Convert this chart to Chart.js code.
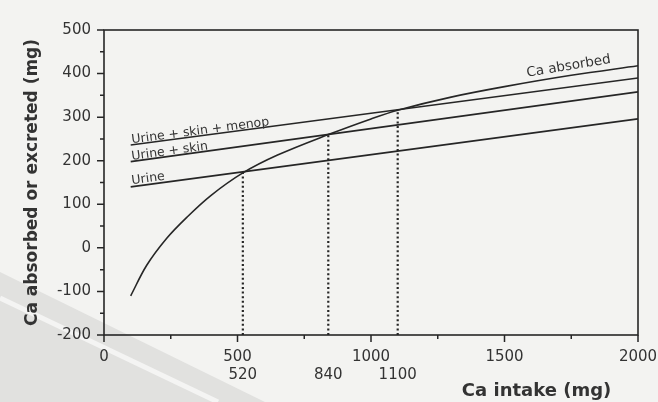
<!DOCTYPE html>
<html>
<head>
<meta charset="utf-8">
<script src="https://cdn.jsdelivr.net/npm/chart.js@4/dist/chart.umd.min.js"></script>
<style>
html,body{margin:0;padding:0;background:#f3f3f1;}
#wrap{width:658px;height:402px;}
</style>
</head>
<body>
<div id="wrap"><canvas id="c" width="658" height="402"></canvas></div>
<script>
// ---- data ----
const intake = [100, 160, 235, 310, 400, 520, 650, 840, 1000, 1100, 1300, 1500, 1750, 2000];
const caAbsorbed = [-110, -40, 22, 70, 120, 172, 213, 260, 296, 316, 346, 370, 396, 418];
const lineIntake = [100, 2000];
const urine = [140, 296];
const urineSkin = [198, 358];
const urineSkinMenop = [236, 390];
const thresholdIntake = [520, 840, 1100];
const thresholdLevel = [174, 260, 317];
const axisFloor = -200;
const xMajorTicks = [0, 500, 1000, 1500, 2000];
const xMinorTicks = [250, 750, 1250, 1750];
const yMajorTicks = [-200, -100, 0, 100, 200, 300, 400, 500];
const yMinorTicks = [-150, -50, 50, 150, 250, 350, 450];
const seriesNames = ['Urine', 'Urine + skin', 'Urine + skin + menop', 'Ca absorbed'];
const xTitle = 'Ca intake (mg)';
const yTitle = 'Ca absorbed or excreted (mg)';

const INK = '#262626';
const TXT = '#333333';
const FONT = "'DejaVu Sans', sans-serif";

const pts = (xs, ys) => xs.map((x, i) => ({x: x, y: ys[i]}));

const datasets = [
  {data: pts(intake, caAbsorbed), tension: 0.35},
  {data: pts(lineIntake, urine)},
  {data: pts(lineIntake, urineSkin)},
  {data: pts(lineIntake, urineSkinMenop)}
].map(d => Object.assign({borderColor: INK, borderWidth: 1.6, pointRadius: 0, fill: false}, d));

thresholdIntake.forEach((x, i) => {
  datasets.push({
    data: [{x: x, y: axisFloor}, {x: x, y: thresholdLevel[i]}],
    borderColor: INK, borderWidth: 2.2, borderDash: [2, 2.6], pointRadius: 0, fill: false
  });
});

function interp(xs, ys, x) {
  for (let i = 0; i < xs.length - 1; i++) {
    if (x >= xs[i] && x <= xs[i + 1]) {
      const t = (x - xs[i]) / (xs[i + 1] - xs[i]);
      return ys[i] + t * (ys[i + 1] - ys[i]);
    }
  }
  return ys[ys.length - 1];
}

const labelSpecs = [
  {text: seriesNames[0], xs: lineIntake, ys: urine, at: 105, lift: 2.5, size: 12.5},
  {text: seriesNames[1], xs: lineIntake, ys: urineSkin, at: 105, lift: 1.5, size: 12.5},
  {text: seriesNames[2], xs: lineIntake, ys: urineSkinMenop, at: 105, lift: 1.5, size: 12.5},
  {text: seriesNames[3], xs: intake, ys: caAbsorbed, at: 1585, lift: 6, size: 13.5}
];

const bgPlugin = {
  id: 'bg',
  beforeDraw(chart) {
    const ctx = chart.ctx;
    ctx.save();
    ctx.fillStyle = '#f3f3f1';
    ctx.fillRect(0, 0, chart.width, chart.height);
    ctx.fillStyle = '#e1e1df';
    ctx.beginPath();
    ctx.moveTo(0, 272); ctx.lineTo(265, 402); ctx.lineTo(0, 402); ctx.closePath();
    ctx.fill();
    ctx.strokeStyle = '#f4f4f3';
    ctx.lineWidth = 5;
    ctx.beginPath();
    ctx.moveTo(0, 298); ctx.lineTo(218, 402);
    ctx.stroke();
    ctx.restore();
  }
};

const decoPlugin = {
  id: 'deco',
  afterDraw(chart) {
    const ctx = chart.ctx;
    const a = chart.chartArea;
    const xs = chart.scales.x, ys = chart.scales.y;
    ctx.save();
    ctx.strokeStyle = INK;
    ctx.lineWidth = 1.6;
    ctx.strokeRect(a.left, a.top, a.right - a.left, a.bottom - a.top);
    ctx.lineWidth = 1.5;
    ctx.beginPath();
    yMajorTicks.forEach(v => { const p = ys.getPixelForValue(v); ctx.moveTo(a.left - 7, p); ctx.lineTo(a.left, p); });
    yMinorTicks.forEach(v => { const p = ys.getPixelForValue(v); ctx.moveTo(a.left - 4, p); ctx.lineTo(a.left, p); });
    xMajorTicks.forEach(v => { const p = xs.getPixelForValue(v); ctx.moveTo(p, a.bottom); ctx.lineTo(p, a.bottom + 7); });
    xMinorTicks.forEach(v => { const p = xs.getPixelForValue(v); ctx.moveTo(p, a.bottom); ctx.lineTo(p, a.bottom + 4); });
    ctx.stroke();
    ctx.fillStyle = TXT;
    ctx.textAlign = 'left';
    ctx.textBaseline = 'alphabetic';
    labelSpecs.forEach(s => {
      const x0 = xs.getPixelForValue(s.at), y0 = ys.getPixelForValue(interp(s.xs, s.ys, s.at));
      const x1 = xs.getPixelForValue(s.at + 200), y1 = ys.getPixelForValue(interp(s.xs, s.ys, s.at + 200));
      const ang = Math.atan2(y1 - y0, x1 - x0);
      ctx.save();
      ctx.font = s.size + "px " + FONT;
      ctx.translate(x0, y0 - s.lift);
      ctx.rotate(ang);
      ctx.fillText(s.text, 0, 0);
      ctx.restore();
    });
    ctx.font = "bold 18px " + FONT;
    ctx.textAlign = 'center';
    ctx.fillText(xTitle, xs.getPixelForValue(1620), 396);
    ctx.restore();
  }
};

const noSidePad = s => { s.paddingLeft = 0; s.paddingRight = 0; s.paddingTop = 0; s.paddingBottom = 0; };

new Chart(document.getElementById('c'), {
  type: 'line',
  data: {datasets: datasets},
  plugins: [bgPlugin, decoPlugin],
  options: {
    responsive: false,
    devicePixelRatio: 1,
    animation: false,
    layout: {padding: {left: 0, right: 20, top: 30, bottom: 17}},
    plugins: {legend: {display: false}, tooltip: {enabled: false}},
    scales: {
      x: {
        type: 'linear', min: 0, max: 2000, weight: 0,
        afterBuildTicks: s => { s.ticks = xMajorTicks.map(v => ({value: v})); },
        afterFit: s => { noSidePad(s); s.height = 30; },
        ticks: {padding: 13, color: TXT, font: {family: FONT, size: 15}, maxRotation: 0, autoSkip: false,
                callback: v => String(v)},
        grid: {display: false, drawTicks: false}, border: {display: false}
      },
      x2: {
        type: 'linear', min: 0, max: 2000, position: 'bottom', weight: 1,
        afterBuildTicks: s => { s.ticks = thresholdIntake.map(v => ({value: v})); },
        afterFit: s => { noSidePad(s); s.height = 20; },
        ticks: {padding: 1, color: TXT, font: {family: FONT, size: 15}, maxRotation: 0, autoSkip: false,
                callback: v => String(v)},
        grid: {display: false, drawTicks: false}, border: {display: false}
      },
      y: {
        type: 'linear', min: -200, max: 500,
        afterBuildTicks: s => { s.ticks = yMajorTicks.map(v => ({value: v})); },
        afterFit: s => { noSidePad(s); s.width = 104; },
        ticks: {padding: 13, color: TXT, font: {family: FONT, size: 15}, callback: v => String(v)},
        grid: {display: false, drawTicks: false}, border: {display: false},
        title: {display: true, text: yTitle, color: TXT, font: {family: FONT, size: 17, weight: 'bold'},
                padding: {top: 22, bottom: 15}}
      }
    }
  }
});
</script>
</body>
</html>
